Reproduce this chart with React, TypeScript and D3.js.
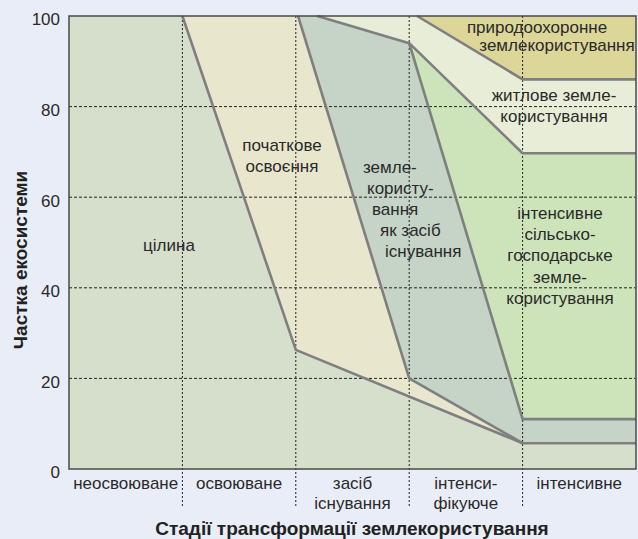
import React from 'react';
import * as d3 from 'd3';

// stage categories along the x axis (one label line per entry)
const stages: string[][] = [
  ['неосвоюване'],
  ['освоюване'],
  ['засіб', 'існування'],
  ['інтенси-', 'фікуюче'],
  ['інтенсивне'],
];

const yTicks = [0, 20, 40, 60, 80, 100];
const gridValues = [20, 40, 60, 80];

// boundary lines, [stage position, share %]
const virginEdge: [number, number][] = [[1, 100], [2, 26.3], [4, 5.7], [5, 5.7]];
const initialEdge: [number, number][] = [[2.02, 100], [3, 20], [4, 5.7]];
const subsistenceEdge: [number, number][] = [[2.19, 100], [3, 94], [4, 11], [5, 11]];
const agriTopEdge: [number, number][] = [[3, 94], [4, 69.7], [5, 69.7]];
const protectedEdge: [number, number][] = [[3.07, 100], [4, 86], [5, 86]];

const W = 638;
const H = 539;
const margin = { left: 69, right: 2, top: 16, bottom: 70 };

const x = d3.scaleLinear().domain([0, 5]).range([margin.left, W - margin.right]);
const y = d3.scaleLinear().domain([0, 100]).range([H - margin.bottom, margin.top]);

const line = d3.line<[number, number]>().x(d => x(d[0])).y(d => y(d[1]));
const poly = (pts: [number, number][]) => line(pts) + 'Z';

const rev = (a: [number, number][]) => [...a].reverse();

// regions composed from the edges
const regions = [
  { name: 'virgin', fill: '#d6dfcb', pts: [[0, 0], [0, 100], ...virginEdge, [5, 0]] as [number, number][] },
  { name: 'initial', fill: '#e8e7cd', pts: [...virginEdge.slice(0, 2), [4, 5.7], ...rev(initialEdge)] as [number, number][] },
  { name: 'subsistence', fill: '#c5d4c6', pts: [...initialEdge, [5, 5.7], ...rev(subsistenceEdge)] as [number, number][] },
  { name: 'residential', fill: '#e8edd8', pts: [...subsistenceEdge.slice(0, 2), ...agriTopEdge.slice(1), ...rev(protectedEdge)] as [number, number][] },
  { name: 'protected', fill: '#dcd699', pts: [...protectedEdge, [5, 100]] as [number, number][] },
  { name: 'agri', fill: '#cde3b9', pts: [...agriTopEdge, ...rev(subsistenceEdge.slice(1))] as [number, number][] },
];

const edges = [virginEdge, initialEdge, subsistenceEdge, agriTopEdge, protectedEdge];

// region captions
const captions: { x: number; y: number; anchor: string; lines: string[]; dy: number }[] = [
  { x: 169, y: 245, anchor: 'middle', lines: ['цілина'], dy: 21 },
  { x: 282, y: 145, anchor: 'middle', lines: ['початкове', 'освоєння'], dy: 21 },
  { x: 554, y: 95, anchor: 'middle', lines: ['житлове земле-', 'користування'], dy: 21 },
  { x: 560, y: 213, anchor: 'middle', lines: ['інтенсивне', 'сільсько-', 'господарське', 'земле-', 'користування'], dy: 21.2 },
];
const protectedCaption = [
  { x: 537, y: 27, text: 'природоохоронне' },
  { x: 557, y: 45, text: 'землекористування' },
];
const subsistenceCaption = [
  { x: 363, y: 167, text: 'земле-' },
  { x: 367, y: 188, text: 'користу-' },
  { x: 372, y: 209, text: 'вання' },
  { x: 380, y: 230, text: 'як засіб' },
  { x: 385, y: 251, text: 'існування' },
];

const font = '"Liberation Sans", Arial, Helvetica, sans-serif';
const textColor = '#2a2a2a';
const fs = 17;

export default function App() {
  const plotBottom = y(0);
  const colW = x(1) - x(0);
  return (
    <svg width={W} height={H} style={{ position: 'fixed', left: 0, top: 0 }} fontFamily={font}>
      <rect width={W} height={H} fill="#e9edf7" />
      {regions.map(r => (
        <path key={r.name} d={poly(r.pts)} fill={r.fill} stroke="none" />
      ))}
      {gridValues.map(v => (
        <line key={v} x1={x(0)} x2={x(5)} y1={y(v)} y2={y(v)} stroke="#222" strokeWidth={1} strokeDasharray="3,2" />
      ))}
      {[1, 2, 3, 4].map(i => (
        <line key={i} x1={x(i)} x2={x(i)} y1={y(100)} y2={plotBottom + 39} stroke="#222" strokeWidth={1} strokeDasharray="2,2" />
      ))}
      {edges.map((e, i) => (
        <path key={i} d={line(e) || ''} fill="none" stroke="#7f7f80" strokeWidth={2.6} strokeLinejoin="round" />
      ))}
      <rect x={x(0)} y={y(100)} width={x(5) - x(0)} height={y(0) - y(100)} fill="none" stroke="#4a4a4a" strokeWidth={1.5} />

      {yTicks.map(t => (
        <text key={t} x={60} y={y(t) + 3.5} dy="0.35em" textAnchor="end" fontSize={fs} fill={textColor}>{t}</text>
      ))}

      {stages.map((s, i) => (
        <text key={i} textAnchor="middle" fontSize={fs} fill={textColor}>
          {s.map((l, j) => (
            <tspan key={j} x={x(i) + colW / 2} y={plotBottom + 14 + j * 20} dy="0.35em">{l}</tspan>
          ))}
        </text>
      ))}

      {captions.map((c, i) => (
        <text key={i} textAnchor={c.anchor} fontSize={fs} fill={textColor}>
          {c.lines.map((l, j) => (
            <tspan key={j} x={c.x} y={c.y + j * c.dy} dy="0.35em">{l}</tspan>
          ))}
        </text>
      ))}
      {protectedCaption.map((c, i) => (
        <text key={i} x={c.x} y={c.y} dy="0.35em" textAnchor="middle" fontSize={fs} fill={textColor}>{c.text}</text>
      ))}
      {subsistenceCaption.map((c, i) => (
        <text key={i} x={c.x} y={c.y} dy="0.35em" textAnchor="start" fontSize={fs} fill={textColor}>{c.text}</text>
      ))}

      <text x={352} y={535} textAnchor="middle" fontSize={19} fontWeight="bold" fill="#222">
        Стадії трансформації землекористування
      </text>
      <text transform="translate(27,260) rotate(-90)" textAnchor="middle" fontSize={19} fontWeight="bold" fill="#222">
        Частка екосистеми
      </text>
    </svg>
  );
}
